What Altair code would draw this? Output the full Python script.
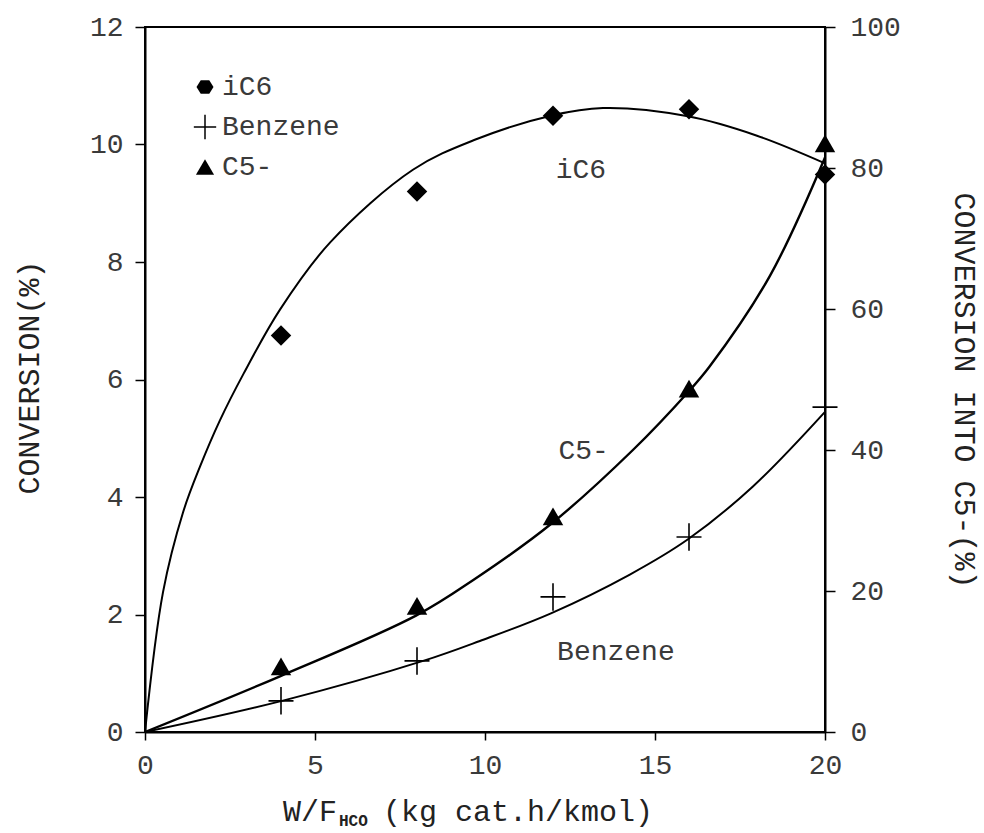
import altair as alt
import pandas as pd

# ---------------- data ----------------
W_F = [4, 8, 12, 16, 20]
IC6 = [6.75, 9.2, 10.49, 10.6, 9.49]          # left axis, %
BENZENE = [0.53, 1.21, 2.30, 3.32, 5.53]      # left axis, %
C5 = [9.3, 17.9, 30.6, 48.7, 83.5]            # right axis, %

# fitted curves
IC6_CURVE_X = [0, 0.53, 1.12, 1.62, 2.2, 2.9, 3.97, 5.44, 7.88, 9.7, 11.94, 13.47, 15.97, 18.0, 20.0]
IC6_CURVE_Y = [0, 2.38, 3.74, 4.52, 5.3, 6.1, 7.19, 8.33, 9.57, 10.08, 10.49, 10.62, 10.48, 10.15, 9.68]
BENZ_CURVE_X = [0, 4.03, 8.18, 9.85, 11.94, 14.26, 15.97, 17.88, 20.0]
BENZ_CURVE_Y = [0, 0.53, 1.21, 1.55, 2.02, 2.68, 3.28, 4.18, 5.45]
C5_CURVE_X = [0, 3.97, 7.97, 9.7, 11.94, 14.35, 15.97, 16.6, 18.38, 20.0]
C5_CURVE_Y = [0, 7.9, 16.5, 21.7, 29.5, 40.0, 48.2, 51.8, 64.7, 81.5]

ANNOT_TEXT = ["iC6", "C5-", "Benzene"]
ANNOT_X = [12.82, 12.9, 13.85]
ANNOT_Y = [9.57, 4.78, 1.36]

LEGEND_LABELS = ["iC6", "Benzene", "C5-"]

X_TICKS = [0, 5, 10, 15, 20]
Y_LEFT_TICKS = [0, 2, 4, 6, 8, 10, 12]
Y_RIGHT_TICKS = [0, 20, 40, 60, 80, 100]

# ---------------- styling ----------------
FONT = "Liberation Mono"
TXT = "#3a3a3a"
PLUS = "M-1,0H1M0,-1.1V1.1"
HEX = "M-1,0L-0.5,-0.8L0.5,-0.8L1,0L0.5,0.8L-0.5,0.8Z"

common_axis = dict(
    grid=False, domainColor="black", domainWidth=2, tickColor="black", tickWidth=1.5,
    labelFont=FONT, labelFontSize=28, labelColor=TXT,
    titleFont=FONT, titleFontSize=30, titleFontWeight="normal", titleColor="#222222",
)

x_enc = alt.X("x:Q", scale=alt.Scale(domain=[0, 20], nice=False, zero=False),
              axis=alt.Axis(values=X_TICKS, title=None, tickSize=8, labelPadding=11,
                            labelFlush=False, **common_axis))

def y_left():
    return alt.Y("y:Q", scale=alt.Scale(domain=[0, 12], nice=False),
                 axis=alt.Axis(orient="left", values=Y_LEFT_TICKS, title="CONVERSION(%)",
                               tickSize=10, labelPadding=12,
                               titleX=-116, titleY=350, titleAngle=270,
                               titleAlign="center", titleBaseline="middle", **common_axis))

def y_right():
    return alt.Y("c5:Q", scale=alt.Scale(domain=[0, 100], nice=False),
                 axis=alt.Axis(orient="right", values=Y_RIGHT_TICKS, title="CONVERSION INTO C5-(%)",
                               tickSize=10, labelPadding=15,
                               titleX=138, titleY=363, titleAngle=90,
                               titleAlign="center", titleBaseline="middle", **common_axis))

pts = pd.DataFrame({"x": W_F, "ic6": IC6, "benz": BENZENE, "c5": C5})
ic6_curve = pd.DataFrame({"x": IC6_CURVE_X, "y": IC6_CURVE_Y})
benz_curve = pd.DataFrame({"x": BENZ_CURVE_X, "y": BENZ_CURVE_Y})
c5_curve = pd.DataFrame({"x": C5_CURVE_X, "c5": C5_CURVE_Y})
annot = pd.DataFrame({"x": ANNOT_X, "y": ANNOT_Y, "t": ANNOT_TEXT})

line_style = dict(color="black", strokeWidth=2, interpolate="catmull-rom")

l_ic6 = alt.Chart(ic6_curve).mark_line(**line_style).encode(x=x_enc, y=y_left())
l_benz = alt.Chart(benz_curve).mark_line(**line_style).encode(x=x_enc, y=y_left())
p_ic6 = alt.Chart(pts).transform_calculate(y="datum.ic6").mark_point(
    shape="diamond", filled=True, color="black", size=420, opacity=1).encode(x=x_enc, y=y_left())
p_benz = alt.Chart(pts).transform_calculate(y="datum.benz").mark_point(
    shape=PLUS, filled=False, color="black", strokeWidth=1.6, size=625, opacity=1).encode(x=x_enc, y=y_left())
t_annot = alt.Chart(annot).mark_text(font=FONT, fontSize=28, color=TXT, align="center",
                                     baseline="middle").encode(x=x_enc, y=y_left(), text="t:N")

left = alt.layer(l_ic6, l_benz, p_ic6, p_benz, t_annot)

l_c5 = alt.Chart(c5_curve).mark_line(color="black", strokeWidth=2.4, interpolate="catmull-rom").encode(
    x=x_enc, y=y_right())
p_c5 = alt.Chart(pts).mark_point(shape="triangle-up", filled=True, color="black", size=420,
                                 opacity=1).encode(x=x_enc, y=y_right())
right = alt.layer(l_c5, p_c5)

# legend (top-left inside the frame)
one = pd.DataFrame({"k": [0]})
leg_shapes = [dict(shape=HEX, filled=True, size=290),
              dict(shape=PLUS, filled=False, size=500, strokeWidth=1.5),
              dict(shape="triangle-up", filled=True, size=330)]
deco = []
for i, (lab, shp) in enumerate(zip(LEGEND_LABELS, leg_shapes)):
    yy = 60 + 40 * i
    deco.append(alt.Chart(one).mark_point(color="black", opacity=1, **shp).encode(
        x=alt.value(60), y=alt.value(yy)))
    deco.append(alt.Chart(one).mark_text(font=FONT, fontSize=28, color=TXT, align="left",
                                         baseline="middle").encode(
        x=alt.value(77), y=alt.value(yy), text=alt.value(lab)))

# x-axis title with subscript
deco.append(alt.Chart(one).mark_text(font=FONT, fontSize=30, color="#222222", align="left",
                                     baseline="alphabetic").encode(
    x=alt.value(138), y=alt.value(794), text=alt.value("W/F")))
deco.append(alt.Chart(one).mark_text(font=FONT, fontSize=16, fontWeight="bold", color="#222222",
                                     align="left", baseline="alphabetic").encode(
    x=alt.value(194), y=alt.value(799), text=alt.value("HCO")))
deco.append(alt.Chart(one).mark_text(font=FONT, fontSize=30, color="#222222", align="left",
                                     baseline="alphabetic").encode(
    x=alt.value(238), y=alt.value(794), text=alt.value("(kg cat.h/kmol)")))

chart = alt.layer(left, right, *deco).resolve_scale(y="independent").properties(
    width=680, height=705,
    autosize=alt.AutoSizeParams(type="none"),
    padding={"left": 145, "top": 27, "right": 159, "bottom": 101},
    background="white",
).configure_view(stroke="black", strokeWidth=2)

chart.save("out.html", embed_options={"renderer": "svg", "actions": False})
